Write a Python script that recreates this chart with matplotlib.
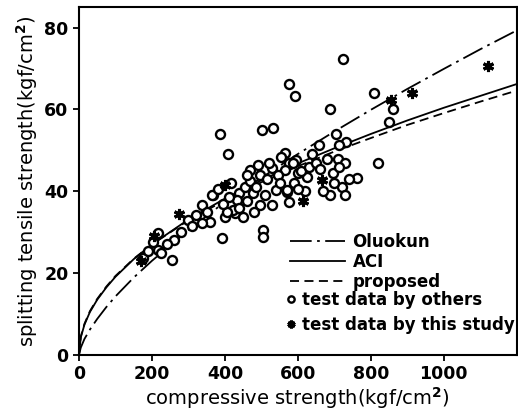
import numpy as np
import matplotlib
matplotlib.use("Agg")
from matplotlib import pyplot as plt

# model curves, values
curve_x = [0, 5, 15, 30, 50, 75, 100, 150, 200, 300, 400, 500, 600, 700, 800, 900, 1000, 1100, 1200]
oluokun_y = [0, 1.8, 3.9, 6.2, 8.8, 11.7, 14.3, 18.9, 23.0, 30.5, 37.4, 43.3, 49.1, 54.6, 59.9, 65.0, 69.9, 74.7, 79.3]
aci_y = [0, 4.3, 7.4, 10.5, 13.5, 16.5, 19.1, 23.4, 27.0, 33.1, 38.2, 42.7, 46.8, 50.5, 54.0, 57.3, 60.4, 63.3, 66.2]
proposed_y = [0, 4.5, 7.6, 10.7, 13.7, 16.7, 19.3, 23.5, 27.0, 32.9, 37.8, 42.2, 46.1, 49.7, 53.0, 56.2, 59.1, 61.9, 64.6]

# test data by others
others_fc = [386, 408, 501, 531, 575, 591, 725, 687, 808, 862, 851, 704, 733, 714, 659,
             564, 555, 468, 495, 528, 577, 596, 600, 624, 681, 709, 728, 695, 714, 720,
             687, 728, 763, 820, 569, 577, 571, 541, 509, 476, 367, 495, 528, 427, 449,
             399, 504, 504, 391, 364, 336, 322, 358, 336, 216, 216, 175, 254, 203, 440,
             421, 405, 432, 564, 586, 380, 395, 410, 418, 455, 460, 470, 485, 490, 515,
             520, 545, 550, 590, 610, 630, 640, 650, 480, 460, 440, 350, 300, 310, 280,
             260, 240, 225, 190, 620, 600, 660, 670, 700, 740]
others_ft = [54.1, 49.2, 54.9, 55.4, 66.3, 63.2, 72.4, 60.0, 63.9, 60.2, 57.0, 53.9, 52.0, 51.2, 51.2,
             49.3, 48.3, 45.1, 43.9, 45.6, 46.8, 47.6, 44.4, 43.4, 48.0, 48.0, 46.8, 44.4, 45.9, 41.0,
             39.0, 39.0, 43.2, 47.0, 39.8, 37.3, 40.2, 40.2, 39.0, 39.5, 39.0, 36.6, 36.6, 34.6, 33.7,
             33.7, 30.5, 28.8, 28.5, 39.0, 36.6, 34.1, 32.4, 32.2, 29.8, 25.6, 23.7, 23.2, 27.6, 39.5,
             35.4, 35.0, 37.8, 45.1, 46.8, 40.5, 37.0, 38.5, 42.0, 41.0, 37.5, 42.5, 41.0, 46.5, 43.0,
             47.0, 44.0, 42.0, 42.0, 45.0, 46.0, 49.0, 47.0, 35.0, 44.0, 36.0, 35.0, 33.0, 31.5, 30.0,
             28.0, 27.0, 25.0, 25.5, 40.0, 40.5, 45.5, 40.0, 42.0, 43.0]

# test data by this study
study_fc = [170, 205, 274, 400, 613, 665, 856, 912, 1122]
study_ft = [23.0, 29.0, 34.4, 41.5, 37.5, 42.7, 62.2, 64.1, 70.5]

plt.rcParams['font.family'] = ['DejaVu Sans']
plt.rcParams['font.weight'] = 'bold'

fig = plt.figure(figsize=(5.18, 4.20), dpi=100)
ax = fig.add_axes([0.1525, 0.155, 0.845, 0.828])

l1, = ax.plot(curve_x, oluokun_y, color='k', lw=1.3, ls=(0, (12, 3, 1.5, 3)), label='Oluokun')
l2, = ax.plot(curve_x, aci_y, color='k', lw=1.3, ls='-', label='ACI')
l3, = ax.plot(curve_x, proposed_y, color='k', lw=1.3, ls=(0, (5, 3)), label='proposed')
p1, = ax.plot(others_fc, others_ft, ls='none', marker='o', ms=6.5, mfc='white', mec='k', mew=1.7,
              label='test data by others')
p2, = ax.plot(study_fc, study_ft, ls='none', marker=(6, 2, 0), ms=8, mec='k', mew=2.2,
              label='test data by this study')

ax.set_xlim(0, 1200)
ax.set_ylim(0, 85)
ax.set_xticks([0, 200, 400, 600, 800, 1000])
ax.set_yticks([0, 20, 40, 60, 80])
ax.tick_params(direction='out', length=4, width=1.3, labelsize=12.5)
for s in ax.spines.values():
    s.set_linewidth(1.5)

ax.set_xlabel('compressive strength(kgf/cm$^2$)', fontsize=14, labelpad=1)
ax.set_ylabel('splitting tensile strength(kgf/cm$^2$)', fontsize=14, labelpad=3)

# two-part legend, like the original: line keys, then marker keys
leg1 = ax.legend(handles=[l1, l2, l3], loc='upper left', bbox_to_anchor=(0.482, 0.35),
                 frameon=False, fontsize=12, handlelength=3.3, handletextpad=0.45,
                 labelspacing=0.12, borderaxespad=0, borderpad=0)
ax.add_artist(leg1)
ax.legend(handles=[p1, p2], loc='upper left', bbox_to_anchor=(0.468, 0.185),
          frameon=False, fontsize=12, handlelength=0.8, handletextpad=0.3,
          labelspacing=0.45, borderaxespad=0, borderpad=0, markerscale=0.7)

fig.savefig('out.png', dpi=100)
